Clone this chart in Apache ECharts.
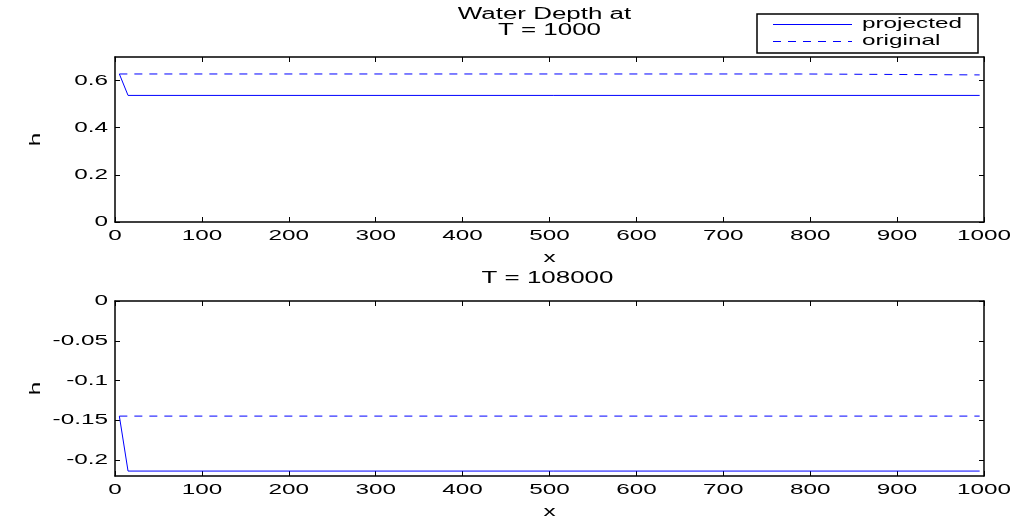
<!DOCTYPE html>
<html>
<head>
<meta charset="utf-8">
<script src="https://cdn.jsdelivr.net/npm/echarts@6/dist/echarts.min.js"></script>
<style>
  html, body { margin: 0; padding: 0; background: #fff; }
  #chart { width: 1016px; height: 523px; }
</style>
</head>
<body>
<div id="chart"></div>
<script>
// Tick values and labels
const xTicks = [0, 100, 200, 300, 400, 500, 600, 700, 800, 900, 1000];
const topYTicks = [0, 0.2, 0.4, 0.6];
const bottomYTicks = [-0.2, -0.15, -0.1, -0.05, 0];
const seriesNames = ['projected', 'original'];
const topTitleLines = ['Water Depth at', 'T = 1000'];
const bottomTitle = 'T = 108000';
const xName = 'x';
const yName = 'h';

// Water depth at T = 1000
const topProjectedX = [5, 15, 995];
const topProjectedH = [0.628, 0.537, 0.537];
const topOriginalX = [5, 790, 790, 995];
const topOriginalH = [0.628, 0.628, 0.624, 0.624];

// Water depth at T = 108000
const bottomProjectedX = [5, 15, 995];
const bottomProjectedH = [-0.1447, -0.2138, -0.2138];
const bottomOriginalX = [5, 995];
const bottomOriginalH = [-0.1447, -0.1447];

const FONT = '"Liberation Sans", Arial, Helvetica, sans-serif';
const STRETCH = 1.62;
const BLUE = '#0000ff';

function pairs(xs, ys) { return xs.map((x, i) => [x, ys[i]]); }

function xAxisDef(grid, pos) {
  return {
    type: 'value', gridIndex: grid, position: pos, min: 0, max: 1000, interval: 100,
    axisLine: { show: true, onZero: false, lineStyle: { color: '#000', width: 1.5 } },
    axisTick: { show: true, inside: true, length: 5, lineStyle: { color: '#000', width: 1 } },
    axisLabel: { show: false }, splitLine: { show: false }
  };
}
function yAxisDef(grid, pos, min, max, interval, ticks) {
  return {
    type: 'value', gridIndex: grid, position: pos, min, max, interval,
    axisLine: { show: true, onZero: false, lineStyle: { color: '#000', width: 1.5 } },
    axisTick: { show: true, inside: true, length: 5, customValues: ticks, lineStyle: { color: '#000', width: 1 } },
    axisLabel: { show: false }, splitLine: { show: false }
  };
}
function lineSeries(name, xi, yi, xs, ys, dashed) {
  return {
    name, type: 'line', xAxisIndex: xi, yAxisIndex: yi, data: pairs(xs, ys),
    symbol: 'none', silent: true,
    lineStyle: { color: BLUE, width: 1, type: dashed ? [8, 7] : 'solid' }
  };
}

const chart = echarts.init(document.getElementById('chart'), null, { renderer: 'canvas' });
chart.setOption({
  animation: false,
  backgroundColor: '#fff',
  grid: [
    { left: 115, right: 32, top: 57, height: 165 },
    { left: 115, right: 32, top: 301, height: 175 }
  ],
  xAxis: [xAxisDef(0, 'bottom'), xAxisDef(0, 'top'), xAxisDef(1, 'bottom'), xAxisDef(1, 'top')],
  yAxis: [
    yAxisDef(0, 'left', 0, 0.7, 0.2, topYTicks),
    yAxisDef(0, 'right', 0, 0.7, 0.2, topYTicks),
    yAxisDef(1, 'left', -0.22, 0, 0.05, bottomYTicks),
    yAxisDef(1, 'right', -0.22, 0, 0.05, bottomYTicks)
  ],
  series: [
    lineSeries(seriesNames[0], 0, 0, topProjectedX, topProjectedH, false),
    lineSeries(seriesNames[1], 0, 0, topOriginalX, topOriginalH, true),
    lineSeries(seriesNames[0], 2, 2, bottomProjectedX, bottomProjectedH, false),
    lineSeries(seriesNames[1], 2, 2, bottomOriginalX, bottomOriginalH, true)
  ]
});

// Text is drawn with a horizontal stretch, placed from the axes' own pixel mapping
const g = [];
function text(x, y, str, align, vAlign, size, rotation) {
  g.push({
    type: 'text', x, y, rotation: rotation || 0, scaleX: STRETCH, silent: true,
    style: { text: str, font: size + 'px ' + FONT, fill: '#000',
             align, textAlign: align, verticalAlign: vAlign, textVerticalAlign: vAlign }
  });
}
function fmt(v) { return String(Math.round(v * 1000) / 1000); }

const panels = [
  { xi: 0, yi: 0, yMin: 0, yMax: 0.7, yTicks: topYTicks },
  { xi: 2, yi: 2, yMin: -0.22, yMax: 0, yTicks: bottomYTicks }
];
panels.forEach((p) => {
  const bottom = chart.convertToPixel({ yAxisIndex: p.yi }, p.yMin);
  const top = chart.convertToPixel({ yAxisIndex: p.yi }, p.yMax);
  const left = chart.convertToPixel({ xAxisIndex: p.xi }, 0);
  const right = chart.convertToPixel({ xAxisIndex: p.xi }, 1000);
  xTicks.forEach((v) => text(chart.convertToPixel({ xAxisIndex: p.xi }, v), bottom + 13.5, fmt(v), 'center', 'middle', 15));
  p.yTicks.forEach((v) => text(left - 7, chart.convertToPixel({ yAxisIndex: p.yi }, v), fmt(v), 'right', 'middle', 15));
  text((left + right) / 2, bottom + 36, xName, 'center', 'middle', 15);
  text(36, (top + bottom) / 2, yName, 'center', 'middle', 15, Math.PI / 2);
  p.cx = (left + right) / 2; p.top = top; p.right = right;
});

// Panel titles
text(panels[0].cx - 5, 15, topTitleLines[0], 'center', 'middle', 16);
text(panels[0].cx, 31, topTitleLines[1], 'center', 'middle', 16);
text(panels[1].cx - 2, panels[1].top - 22, bottomTitle, 'center', 'middle', 16);

// Legend box in the upper right
const lgRight = panels[0].right - 6;
const lgLeft = lgRight - 221;
g.push({ type: 'rect', shape: { x: lgLeft, y: 14, width: 221, height: 39 }, silent: true,
         style: { fill: '#fff', stroke: '#000', lineWidth: 1.5 } });
[24.5, 41.5].forEach((y, i) => {
  g.push({ type: 'line', shape: { x1: lgLeft + 16, y1: y, x2: lgLeft + 95, y2: y }, silent: true,
           style: { stroke: BLUE, lineWidth: 1, lineDash: i ? [8, 7] : null } });
  text(lgLeft + 105, y - 0.5, seriesNames[i], 'left', 'middle', 15);
});

chart.setOption({ graphic: g });
</script>
</body>
</html>
